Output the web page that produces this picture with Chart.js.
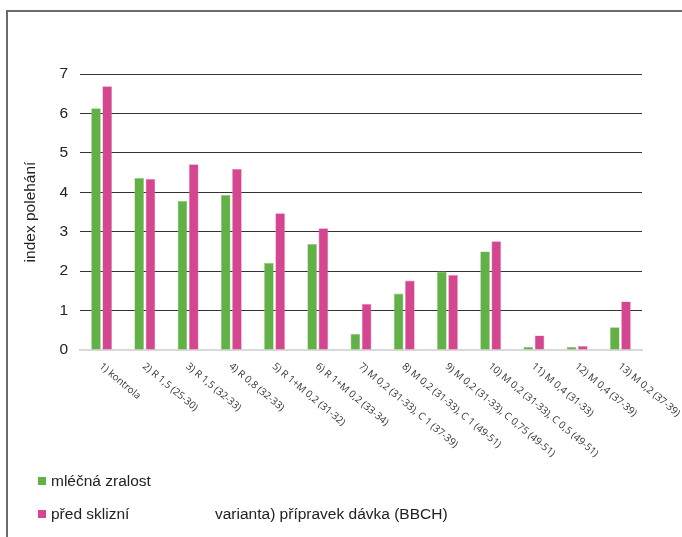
<!DOCTYPE html>
<html>
<head>
<meta charset="utf-8">
<script src="https://cdn.jsdelivr.net/npm/chart.js@4.4.0/dist/chart.umd.min.js"></script>
<style>
    body { margin: 0; background: #fff; overflow: hidden; }
    #wrap { position: relative; width: 682px; height: 537px; overflow: hidden; }
    #frame { position: absolute; left: 6px; top: 10px; width: 720px; height: 600px; border: 2px solid #6b6b6b; box-sizing: border-box; }
    #chart { position: absolute; left: 0; top: 0; }
    .legend-item { position: absolute; left: 38px; font: 15.5px "Liberation Sans", Arial, sans-serif; color: #222; line-height: 18px; }
    .legend-item span { display: inline-block; width: 8px; height: 8px; margin-right: 5px; vertical-align: 1px; }
    #x-title { position: absolute; left: 215px; top: 505px; font: 15.5px "Liberation Sans", Arial, sans-serif; color: #222; line-height: 18px; }
</style>
</head>
<body>
<div id="wrap">
    <div id="frame"></div>
    <canvas id="chart" width="682" height="537"></canvas>
    <div class="legend-item" style="top: 472px"><span style="background:#62b146"></span>mléčná zralost</div>
    <div class="legend-item" style="top: 505px"><span style="background:#d4468f"></span>před sklizní</div>
    <div id="x-title">varianta) přípravek dávka (BBCH)</div>
</div>
<script>
// varianty
const categories = [
    '1) kontrola',
    '2) R 1,5 (25-30)',
    '3) R 1,5 (32-33)',
    '4) R 0,8 (32-33)',
    '5) R 1+M 0,2 (31-32)',
    '6) R 1+M 0,2 (33-34)',
    '7) M 0,2 (31-33), C 1 (37-39)',
    '8) M 0,2 (31-33), C 1 (49-51)',
    '9) M 0,2 (31-33), C 0,75 (49-51)',
    '10) M 0,2 (31-33), C 0,5 (49-51)',
    '11) M 0,4 (31-33)',
    '12) M 0,4 (37-39)',
    '13) M 0,2 (37-39)'
];
const mlecnaZralost = [6.13, 4.36, 3.78, 3.93, 2.21, 2.69, 0.41, 1.43, 1.99, 2.50, 0.08, 0.08, 0.58];
const predSklizni = [6.69, 4.34, 4.71, 4.59, 3.47, 3.09, 1.17, 1.76, 1.90, 2.76, 0.37, 0.10, 1.23];
const yTicks = [0, 1, 2, 3, 4, 5, 6, 7];

// popisky osy x sikmo dolu (chart.js umi jen nahoru)
const slantLabels = {
    id: 'slantLabels',
    afterDraw(chart) {
        const ctx = chart.ctx;
        const xs = chart.scales.x;
        ctx.save();
        ctx.font = '10px "Open Sans", sans-serif';
        ctx.fillStyle = '#333';
        ctx.textAlign = 'left';
        ctx.textBaseline = 'middle';
        categories.forEach((lab, i) => {
            const x = xs.getPixelForValue(i);
            ctx.save();
            ctx.translate(x - 1, chart.chartArea.bottom + 15);
            ctx.rotate(40 * Math.PI / 180);
            ctx.fillText(lab, 0, 0);
            ctx.restore();
        });
        ctx.restore();
    }
};

const ctx = document.getElementById('chart').getContext('2d');
new Chart(ctx, {
    type: 'bar',
    data: {
        labels: categories,
        datasets: [{
            label: 'mléčná zralost',
            data: mlecnaZralost,
            backgroundColor: '#62b146',
            borderColor: '#8fcc7a',
            borderWidth: 0.6,
            barPercentage: 0.86,
            categoryPercentage: 0.52
        }, {
            label: 'před sklizní',
            data: predSklizni,
            backgroundColor: '#d4468f',
            borderColor: '#e98ab9',
            borderWidth: 0.6,
            barPercentage: 0.86,
            categoryPercentage: 0.52
        }]
    },
    options: {
        responsive: false,
        animation: false,
        layout: { padding: { left: 8, right: 40, top: 74, bottom: 0 } },
        plugins: {
            legend: { display: false },
            tooltip: { enabled: false }
        },
        scales: {
            x: {
                grid: { display: false, drawTicks: false },
                border: { color: '#d9d9d9', width: 2 },
                ticks: { display: false },
                afterFit: s => { s.height = 187 }
            },
            y: {
                min: 0,
                max: 7,
                afterBuildTicks: s => { s.ticks = yTicks.map(v => ({ value: v })) },
                grid: { color: '#333', lineWidth: 1, drawTicks: false },
                border: { display: false },
                ticks: {
                    color: '#222',
                    font: { family: '"Liberation Sans", Arial, sans-serif', size: 15.5 },
                    padding: 12
                },
                title: {
                    display: true,
                    text: 'index polehání',
                    color: '#222',
                    font: { family: '"Liberation Sans", Arial, sans-serif', size: 15.5 },
                    padding: { top: 13, bottom: 0 }
                },
                afterFit: s => { s.width = 72 }
            }
        }
    },
    plugins: [slantLabels]
});
</script>
</body>
</html>
